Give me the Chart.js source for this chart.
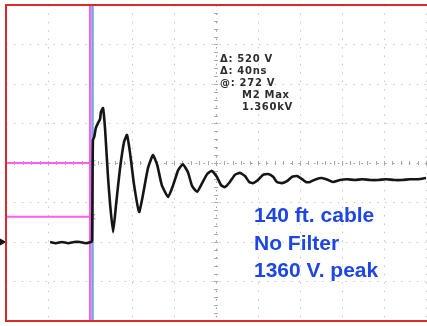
<!DOCTYPE html>
<html>
<head>
<meta charset="utf-8">
<script src="https://cdn.jsdelivr.net/npm/chart.js@4"></script>
<style>
  html, body { margin: 0; padding: 0; background: #fff; }
  canvas { display: block; }
</style>
</head>
<body>
<canvas id="scope" width="427" height="326"></canvas>
<script>
// screen in divisions: 10 across, 8 up (0 = centre line)
const xDivs = [0, 10];
const yDivs = [-4, 4];

// CH2 trace (time div, volts div)
const traceT = [1.05, 1.19, 1.33, 1.48, 1.62, 1.76, 1.90, 2.02, 2.05, 2.06,
  2.07, 2.10, 2.14, 2.19, 2.24, 2.26, 2.31, 2.36, 2.43, 2.48,
  2.55, 2.62, 2.71, 2.81, 2.88, 2.95, 3.05, 3.17, 3.26, 3.38,
  3.50, 3.60, 3.71, 3.86, 3.98, 4.10, 4.21, 4.33, 4.43, 4.55,
  4.67, 4.79, 4.90, 5.02, 5.12, 5.21, 5.33, 5.45, 5.57, 5.69,
  5.79, 5.88, 6.00, 6.12, 6.24, 6.36, 6.45, 6.57, 6.69, 6.81,
  6.93, 7.05, 7.14, 7.24, 7.38, 7.52, 7.67, 7.79, 7.95, 8.12,
  8.31, 8.48, 8.67, 8.86, 9.05, 9.24, 9.43, 9.62, 9.81, 10.0];
const traceV = [-2.00, -2.03, -2.00, -2.03, -2.00, -2.00, -2.03, -2.00, -1.97, -0.43,
  0.58, 0.66, 0.89, 1.01, 1.11, 1.29, 1.39, 0.84, -0.38, -1.06,
  -1.75, -1.06, -0.18, 0.53, 0.71, 0.28, -0.56, -1.24, -0.81, -0.13,
  0.20, -0.05, -0.56, -0.86, -0.56, -0.18, -0.03, -0.23, -0.58, -0.73,
  -0.51, -0.28, -0.20, -0.35, -0.56, -0.61, -0.48, -0.30, -0.25, -0.33,
  -0.48, -0.51, -0.43, -0.30, -0.28, -0.35, -0.48, -0.51, -0.46, -0.35,
  -0.33, -0.41, -0.48, -0.48, -0.41, -0.38, -0.43, -0.48, -0.43, -0.41,
  -0.43, -0.41, -0.43, -0.43, -0.41, -0.43, -0.43, -0.41, -0.41, -0.38];

// cursors
const hCursorLevels = [0, -1.36];
const vCursorPink = 2.0;
const vCursorBlue = 2.06;
const groundLevel = -2.0;

// texts
const readout = ['\u0394: 520 V', '\u0394: 40ns', '@: 272 V', 'M2 Max', '1.360kV'];
const caption = ['140 ft. cable', 'No Filter', '1360 V. peak'];

const tracePoints = traceT.map((t, i) => ({ x: t, y: traceV[i] }));

const datasets = [{
  data: tracePoints,
  showLine: true,
  borderColor: '#151515',
  borderWidth: 2.6,
  pointRadius: 0,
  tension: 0.15,
  clip: false,
  order: 0
}];

hCursorLevels.forEach(lv => {
  datasets.push({
    data: [{ x: xDivs[0], y: lv }, { x: vCursorBlue, y: lv }],
    showLine: true,
    borderColor: '#ff5cf4',
    borderWidth: 2,
    pointRadius: 0,
    order: 2
  });
  datasets.push({
    data: [{ x: vCursorBlue, y: lv }],
    pointStyle: 'crossRot',
    pointRadius: 4,
    borderColor: '#888',
    borderWidth: 1,
    order: 1
  });
});

datasets.push({
  data: [{ x: vCursorPink, y: yDivs[0] }, { x: vCursorPink, y: yDivs[1] }],
  showLine: true, borderColor: '#ff5cf4', borderWidth: 2, pointRadius: 0, order: 2
});
datasets.push({
  data: [{ x: vCursorBlue, y: yDivs[0] }, { x: vCursorBlue, y: yDivs[1] }],
  showLine: true, borderColor: '#74a6dc', borderWidth: 2.5, pointRadius: 0, order: 2
});

// channel ground marker at left edge
datasets.push({
  data: [{ x: -0.1, y: groundLevel }],
  pointStyle: 'triangle',
  rotation: 90,
  pointRadius: 3.5,
  backgroundColor: '#111',
  borderColor: '#111',
  clip: false,
  order: 0
});

const graticule = {
  id: 'graticule',
  beforeDatasetsDraw(chart) {
    const { ctx, scales: { x, y } } = chart;
    const cx = x.getPixelForValue(5), cy = y.getPixelForValue(0);
    ctx.save();
    ctx.strokeStyle = '#a8a8a8';
    ctx.lineWidth = 1;
    ctx.beginPath();
    for (let v = xDivs[0]; v <= xDivs[1] + 0.01; v += 0.2) {
      const px = Math.round(x.getPixelForValue(v)) + 0.5;
      ctx.moveTo(px, cy - 2); ctx.lineTo(px, cy + 2);
    }
    for (let v = yDivs[0]; v <= yDivs[1] + 0.01; v += 0.2) {
      const py = Math.round(y.getPixelForValue(v)) + 0.5;
      ctx.moveTo(cx - 2, py); ctx.lineTo(cx + 2, py);
    }
    ctx.stroke();
    ctx.restore();
  },
  afterDraw(chart) {
    const { ctx, chartArea: a } = chart;
    ctx.save();
    // red screen frame (right side is off the picture)
    ctx.strokeStyle = '#dc2a2a';
    ctx.lineWidth = 2;
    ctx.beginPath();
    ctx.moveTo(chart.width, a.top);
    ctx.lineTo(a.left, a.top);
    ctx.lineTo(a.left, a.bottom);
    ctx.lineTo(chart.width, a.bottom);
    ctx.stroke();

    // cursor readout
    ctx.fillStyle = '#2e2e2e';
    ctx.font = 'bold 10px "DejaVu Sans"';
    ctx.letterSpacing = '0.7px';
    ctx.textBaseline = 'alphabetic';
    const rx = [220, 220, 220, 242, 242];
    readout.forEach((s, i) => ctx.fillText(s, rx[i], 62 + i * 12));

    // caption
    ctx.letterSpacing = '0px';
    ctx.fillStyle = '#1e46e6';
    ctx.font = 'bold 21px "Liberation Sans", Arial, sans-serif';
    caption.forEach((s, i) => ctx.fillText(s, 254, 222 + i * 27.5));
    ctx.restore();
  }
};

const gridColor = c => (c.tick && c.tick.value === 5 ? '#9c9c9c' : '#c6c6c6');
const gridColorY = c => (c.tick && c.tick.value === 0 ? '#9c9c9c' : '#c6c6c6');

new Chart(document.getElementById('scope'), {
  type: 'scatter',
  data: { datasets },
  options: {
    responsive: false,
    animation: false,
    layout: { autoPadding: false, padding: { left: 6, top: 5, right: 1, bottom: 5 } },
    plugins: { legend: { display: false }, tooltip: { enabled: false } },
    scales: {
      x: {
        type: 'linear', min: xDivs[0], max: xDivs[1],
        ticks: { display: false, stepSize: 1 },
        grid: { color: gridColor, lineWidth: 1, drawTicks: false },
        border: { display: false, dash: [1.5, 6.9] }
      },
      y: {
        type: 'linear', min: yDivs[0], max: yDivs[1],
        ticks: { display: false, stepSize: 1 },
        grid: { color: gridColorY, lineWidth: 1, drawTicks: false },
        border: { display: false, dash: [1.5, 6.4] }
      }
    }
  },
  plugins: [graticule]
});
</script>
</body>
</html>
